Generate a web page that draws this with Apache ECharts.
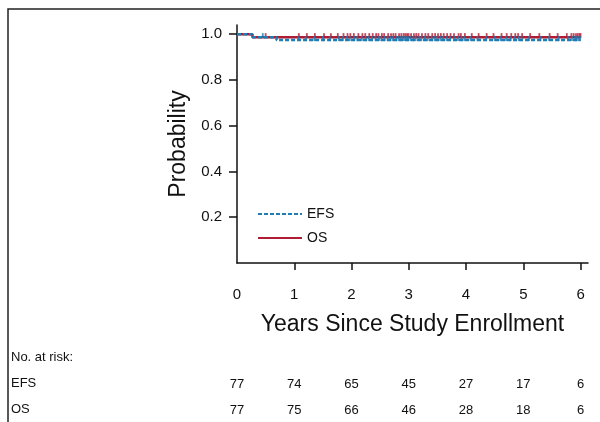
<!DOCTYPE html>
<html lang="en">
  <head>
    <meta charset="UTF-8" />
    <title>EFS / OS</title>
    <script src="https://cdnjs.cloudflare.com/ajax/libs/echarts/6.0.0/echarts.min.js"></script>
    <style>
      html, body { margin: 0; padding: 0; background: #fff; }
      #chart { width: 600px; height: 422px; }
    </style>
  </head>
  <body>
    <div id="chart"></div>
    <script type="text/javascript">
      // 生存曲线 (time in years, probability)
      const efsCurve = [[0, 1], [0.27, 0.987], [0.69, 0.974], [6.0, 0.974]];
      const osCurve = [[0, 1], [0.27, 0.987], [6.0, 0.987]];
      // 删失点
      const efsCensor = [0.45, 1.07, 1.2, 1.35, 1.5, 1.62, 1.78, 1.85, 1.92, 1.97,
        2.05, 2.1, 2.18, 2.25, 2.3, 2.36, 2.42, 2.48, 2.52, 2.58, 2.63, 2.68, 2.72, 2.78, 2.82, 2.86, 2.9, 2.93, 2.96, 2.99,
        3.03, 3.08, 3.12, 3.18, 3.22, 3.28, 3.33, 3.4, 3.45, 3.5, 3.55, 3.6, 3.66, 3.72, 3.8, 3.86, 3.92, 3.97,
        4.08, 4.2, 4.35, 4.5, 4.6, 4.7, 4.78, 4.85, 4.92, 4.97,
        5.1, 5.3, 5.45, 5.62, 5.78, 5.85, 5.9, 5.93, 5.96, 5.99];
      const osCensor = [0.5, 1.08, 1.22, 1.36, 1.52, 1.64, 1.76, 1.86, 1.93, 1.98,
        2.04, 2.12, 2.19, 2.24, 2.31, 2.37, 2.43, 2.47, 2.53, 2.57, 2.64, 2.69, 2.73, 2.77, 2.83, 2.87, 2.91, 2.94, 2.97, 2.995,
        3.04, 3.09, 3.13, 3.17, 3.23, 3.29, 3.34, 3.41, 3.46, 3.51, 3.56, 3.61, 3.67, 3.73, 3.79, 3.87, 3.91, 3.98,
        4.1, 4.22, 4.36, 4.48, 4.62, 4.71, 4.79, 4.86, 4.91, 4.98,
        5.12, 5.28, 5.46, 5.6, 5.76, 5.84, 5.88, 5.92, 5.95, 5.98, 6.0];
      // 风险人数表
      const riskTimes = [0, 1, 2, 3, 4, 5, 6];
      const efsRisk = [77, 74, 65, 45, 27, 17, 6];
      const osRisk = [77, 75, 66, 46, 28, 18, 6];
      const yTicks = [0.2, 0.4, 0.6, 0.8, 1.0];
      const xTicks = [0, 1, 2, 3, 4, 5, 6];

      const efsColor = "#1d7db5";
      const osColor = "#b01c33";
      const textColor = "#111";
      const narrow = "'Liberation Sans Narrow', 'Liberation Sans', Arial, sans-serif";
      const plain = "'Liberation Sans', Arial, sans-serif";

      // 阶梯函数取值
      const survAt = (curve, t) => {
        let v = curve[0][1];
        curve.forEach((p) => {
          if (p[0] <= t) v = p[1];
        });
        return v;
      };

      const myChart = echarts.init(document.getElementById("chart"));
      const options = {
        animation: false,
        grid: { left: 237, right: 12, top: 25, bottom: 159 },
        legend: {
          data: ["EFS", "OS"],
          orient: "vertical",
          left: 252,
          top: 202,
          itemWidth: 44,
          itemHeight: 14,
          itemGap: 10,
          selectedMode: false,
          itemStyle: { opacity: 0 },
          textStyle: { color: textColor, fontSize: 14, fontFamily: plain },
        },
        xAxis: {
          type: "value",
          min: 0,
          max: 6.13,
          name: "Years Since Study Enrollment",
          nameLocation: "middle",
          nameGap: 50,
          nameTextStyle: { color: textColor, fontSize: 23, fontFamily: narrow },
          axisLine: { show: true, onZero: false, lineStyle: { color: "#111", width: 1.5 } },
          axisTick: { show: true, length: 7, customValues: [1, 2, 3, 4, 5, 6], lineStyle: { color: "#111", width: 1.5 } },
          axisLabel: { customValues: xTicks, margin: 24, color: textColor, fontSize: 15, fontFamily: plain },
          splitLine: { show: false },
        },
        yAxis: {
          type: "value",
          min: 0,
          max: 1.04,
          name: "Probability",
          nameLocation: "middle",
          nameGap: 47,
          nameTextStyle: { color: textColor, fontSize: 23, fontFamily: narrow },
          axisLine: { show: true, lineStyle: { color: "#111", width: 1.5 } },
          axisTick: { show: true, length: 8, customValues: yTicks, lineStyle: { color: "#111", width: 1.5 } },
          axisLabel: {
            customValues: yTicks,
            margin: 15,
            color: textColor,
            fontSize: 15,
            fontFamily: plain,
            formatter: (v) => v.toFixed(1),
          },
          splitLine: { show: false },
        },
        series: [
          {
            name: "OS",
            type: "line",
            step: "end",
            symbol: "none",
            z: 2,
            lineStyle: { color: osColor, width: 2.5 },
            itemStyle: { color: osColor },
            data: osCurve,
          },
          {
            name: "EFS",
            type: "line",
            step: "end",
            symbol: "none",
            z: 3,
            lineStyle: { color: efsColor, width: 2.5, type: [4, 2] },
            itemStyle: { color: efsColor },
            data: efsCurve,
          },
          // 删失标记
          {
            type: "scatter",
            symbol: "rect",
            symbolSize: [1.8, 5],
            symbolOffset: [0, -1.5],
            z: 2,
            itemStyle: { color: osColor },
            data: osCensor.map((t) => [t, survAt(osCurve, t)]),
          },
          {
            type: "scatter",
            symbol: "rect",
            symbolSize: [1.8, 5],
            symbolOffset: [0, -1.5],
            z: 3,
            itemStyle: { color: efsColor },
            data: efsCensor.map((t) => [t, survAt(efsCurve, t)]),
          },
        ],
      };
      myChart.setOption(options);

      // 边框 + 风险人数表
      const graphics = [
        {
          type: "rect",
          shape: { x: 8, y: 9, width: 800, height: 600 },
          style: { fill: "none", stroke: "#222", lineWidth: 1.5 },
          silent: true,
        },
        { type: "text", left: 11, top: 351, style: { text: "No. at risk:", fill: textColor, font: "13px " + plain } },
        { type: "text", left: 11, top: 377, style: { text: "EFS", fill: textColor, font: "13px " + plain } },
        { type: "text", left: 11, top: 403, style: { text: "OS", fill: textColor, font: "13px " + plain } },
      ];
      riskTimes.forEach((t, i) => {
        const x = myChart.convertToPixel({ xAxisIndex: 0 }, t);
        graphics.push({
          type: "text",
          x: x,
          y: 384,
          style: { text: String(efsRisk[i]), fill: textColor, font: "13px " + plain, align: "center", verticalAlign: "middle" },
        });
        graphics.push({
          type: "text",
          x: x,
          y: 410,
          style: { text: String(osRisk[i]), fill: textColor, font: "13px " + plain, align: "center", verticalAlign: "middle" },
        });
      });
      myChart.setOption({ graphic: graphics });
    </script>
  </body>
</html>
